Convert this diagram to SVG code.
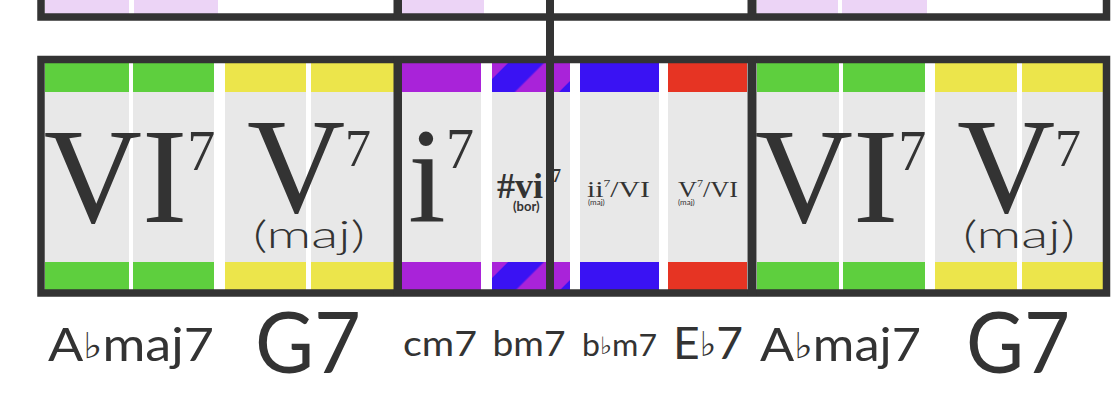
<svg xmlns="http://www.w3.org/2000/svg" width="1112" height="404" viewBox="0 0 1112 404">
<defs>
<style>
.gray{fill:#e8e8e8}
.gr{fill:#5ecf3e}.ye{fill:#ece54b}.pu{fill:#a923d9}.bl{fill:#3a12f3}.re{fill:#e63423}
.lav{fill:#ecd4f6}
.rn{font-family:"Liberation Serif",serif;fill:#333;font-size:136px}
.sm{font-family:"Liberation Serif",serif;fill:#333;font-size:24px}
.sans{font-family:Lato,"Noto Sans",sans-serif;fill:#333}
.flat{font-family:"DejaVu Sans",sans-serif}
.bar{fill:#333}
.frame{fill:none;stroke:#333;stroke-width:7.5}
</style>
<pattern id="strT" patternUnits="userSpaceOnUse" width="56.57" height="20" patternTransform="translate(0,63) rotate(45)">
<rect width="56.57" height="20" fill="#a923d9"/>
<rect x="19.8" width="25.4" height="20" fill="#3a12f3"/>
</pattern>
<pattern id="strB" patternUnits="userSpaceOnUse" width="56.57" height="20" patternTransform="translate(0,262) rotate(45)">
<rect width="56.57" height="20" fill="#a923d9"/>
<rect x="19.8" width="25.4" height="20" fill="#3a12f3"/>
</pattern>
</defs>
<rect width="1112" height="404" fill="#fff"/>

<g id="top-row">
<rect class="lav" x="45" y="0" width="84" height="14"/>
<rect class="lav" x="134" y="0" width="84" height="14"/>
<rect class="lav" x="402" y="0" width="82" height="14"/>
<rect class="lav" x="757" y="0" width="81" height="14"/>
<rect class="lav" x="842" y="0" width="85" height="14"/>
<rect class="frame" x="41" y="-100" width="1065.5" height="117"/>
<rect class="bar" x="393.5" y="0" width="8.5" height="20"/>
<rect class="bar" x="747.5" y="0" width="9" height="20"/>
</g>

<g id="m1-VI7">
<rect class="gray" x="45" y="63" width="84" height="227"/>
<rect class="gray" x="133" y="63" width="81" height="227"/>
<rect class="gr" x="45" y="63" width="84" height="29"/><rect class="gr" x="133" y="63" width="81" height="29"/>
<rect class="gr" x="45" y="262" width="84" height="28"/><rect class="gr" x="133" y="262" width="81" height="28"/>
<text class="rn" x="129.5" y="222" text-anchor="middle">VI<tspan font-size="56" dy="-52">7</tspan></text>
</g>
<g id="m1-V7">
<rect class="gray" x="225" y="63" width="81" height="227"/>
<rect class="gray" x="311" y="63" width="83" height="227"/>
<rect class="ye" x="225" y="63" width="81" height="29"/><rect class="ye" x="311" y="63" width="83" height="29"/>
<rect class="ye" x="225" y="262" width="81" height="28"/><rect class="ye" x="311" y="262" width="83" height="28"/>
<text class="rn" x="309" y="212" font-size="118" text-anchor="middle">V<tspan font-size="52" dy="-46">7</tspan></text>
<text class="sans" x="309" y="248" font-size="37" font-weight="300" text-anchor="middle" textLength="112" lengthAdjust="spacingAndGlyphs">(maj)</text>
</g>
<g id="m2-i7">
<rect class="gray" x="402" y="63" width="79" height="227"/>
<rect class="pu" x="402" y="63" width="79" height="29"/>
<rect class="pu" x="402" y="262" width="79" height="28"/>
<text class="rn" x="441" y="222" text-anchor="middle">i<tspan font-size="56" dy="-54">7</tspan></text>
</g>
<g id="m2-sharpvi7">
<rect class="gray" x="492" y="63" width="78" height="227"/>
<rect x="492" y="63" width="78" height="29" fill="url(#strT)"/>
<rect x="492" y="262" width="78" height="28" fill="url(#strB)"/>
<text x="497" y="198" font-family="'Liberation Serif',serif" font-weight="bold" font-size="36" fill="#333">#vi<tspan x="552" font-size="18" dy="-16">7</tspan></text>
<text class="sans" x="513" y="211" font-size="13" font-weight="bold">(bor)</text>
</g>
<g id="m2-ii7-VI">
<rect class="gray" x="580" y="63" width="79" height="227"/>
<rect class="bl" x="580" y="63" width="79" height="29"/>
<rect class="bl" x="580" y="262" width="79" height="28"/>
<text class="sm" x="587" y="197" textLength="63" lengthAdjust="spacingAndGlyphs">ii<tspan font-size="11" dy="-10">7</tspan><tspan dy="10">/VI</tspan></text>
<text class="sans" x="588" y="205" font-size="8" fill="#444">(maj)</text>
</g>
<g id="m2-V7-VI">
<rect class="gray" x="668" y="63" width="79" height="227"/>
<rect class="re" x="668" y="63" width="79" height="29"/>
<rect class="re" x="668" y="262" width="79" height="28"/>
<text class="sm" x="678" y="197" textLength="60" lengthAdjust="spacingAndGlyphs">V<tspan font-size="11" dy="-10">7</tspan><tspan dy="10">/VI</tspan></text>
<text class="sans" x="678" y="205" font-size="8" fill="#444">(maj)</text>
</g>
<g id="m3-VI7">
<rect class="gray" x="757" y="63" width="82" height="227"/>
<rect class="gray" x="843" y="63" width="82" height="227"/>
<rect class="gr" x="757" y="63" width="82" height="29"/><rect class="gr" x="843" y="63" width="82" height="29"/>
<rect class="gr" x="757" y="262" width="82" height="28"/><rect class="gr" x="843" y="262" width="82" height="28"/>
<text class="rn" x="840.5" y="222" text-anchor="middle">VI<tspan font-size="56" dy="-52">7</tspan></text>
</g>
<g id="m3-V7">
<rect class="gray" x="935" y="63" width="82" height="227"/>
<rect class="gray" x="1022" y="63" width="81" height="227"/>
<rect class="ye" x="935" y="63" width="82" height="29"/><rect class="ye" x="1022" y="63" width="81" height="29"/>
<rect class="ye" x="935" y="262" width="82" height="28"/><rect class="ye" x="1022" y="262" width="81" height="28"/>
<text class="rn" x="1019" y="212" font-size="118" text-anchor="middle">V<tspan font-size="52" dy="-46">7</tspan></text>
<text class="sans" x="1019" y="248" font-size="37" font-weight="300" text-anchor="middle" textLength="112" lengthAdjust="spacingAndGlyphs">(maj)</text>
</g>

<g id="grid">
<rect class="frame" x="41" y="59.5" width="1065.5" height="233.5"/>
<rect class="bar" x="393.5" y="56" width="8.5" height="240"/>
<rect class="bar" x="747.5" y="56" width="9" height="240"/>
<rect class="bar" x="546" y="0" width="8" height="296"/>
</g>

<g id="chord-labels" class="sans">
<text x="131" y="361" font-size="46" text-anchor="middle" textLength="166" lengthAdjust="spacingAndGlyphs">A<tspan class="flat" font-size="36" dy="-3">♭</tspan><tspan dy="3">maj7</tspan></text>
<text x="308" y="373" font-size="86" text-anchor="middle" textLength="106" lengthAdjust="spacingAndGlyphs">G7</text>
<text x="440" y="356" font-size="35" text-anchor="middle" textLength="74" lengthAdjust="spacingAndGlyphs">cm7</text>
<text x="529" y="356" font-size="35" text-anchor="middle" textLength="73" lengthAdjust="spacingAndGlyphs">bm7</text>
<text x="619.5" y="356" font-size="30" text-anchor="middle" textLength="75" lengthAdjust="spacingAndGlyphs">b<tspan class="flat" font-size="24" dy="-2">♭</tspan><tspan dy="2">m7</tspan></text>
<text x="708" y="359" font-size="45" text-anchor="middle" textLength="70" lengthAdjust="spacingAndGlyphs">E<tspan class="flat" font-size="34" dy="-3">♭</tspan><tspan dy="3">7</tspan></text>
<text x="840.5" y="361" font-size="46" text-anchor="middle" textLength="161" lengthAdjust="spacingAndGlyphs">A<tspan class="flat" font-size="36" dy="-3">♭</tspan><tspan dy="3">maj7</tspan></text>
<text x="1018" y="373" font-size="86" text-anchor="middle" textLength="104" lengthAdjust="spacingAndGlyphs">G7</text>
</g>
</svg>
